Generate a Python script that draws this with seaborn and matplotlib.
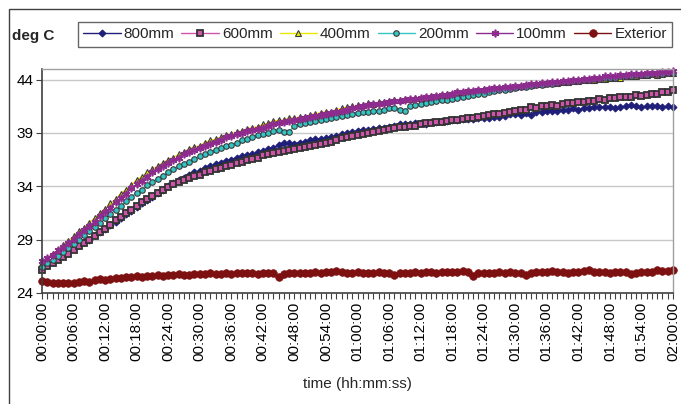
import matplotlib
matplotlib.use("Agg")
import matplotlib.pyplot as plt
import seaborn as sns
import pandas as pd
from matplotlib.patches import Rectangle
from matplotlib.ticker import MultipleLocator

# ---------------------------------------------------------
# Data: temperature (deg C) sampled every minute, 0..120 min
# ---------------------------------------------------------
minutes = list(range(121))

tick_minutes = list(range(0, 121, 6))
tick_labels = [
    "00:00:00", "00:06:00", "00:12:00", "00:18:00", "00:24:00", "00:30:00",
    "00:36:00", "00:42:00", "00:48:00", "00:54:00", "01:00:00", "01:06:00",
    "01:12:00", "01:18:00", "01:24:00", "01:30:00", "01:36:00", "01:42:00",
    "01:48:00", "01:54:00", "02:00:00",
]

t_800 = [
    26.3, 26.6, 26.9, 27.3, 27.6, 27.9, 28.2, 28.5, 28.8, 29.0,
    29.4, 29.7, 30.0, 30.4, 30.7, 31.0, 31.4, 31.7, 32.1, 32.4,
    32.7, 33.0, 33.4, 33.7, 34.0, 34.3, 34.6, 34.8, 35.1, 35.3,
    35.4, 35.7, 35.9, 36.1, 36.2, 36.4, 36.5, 36.7, 36.8, 36.9,
    37.0, 37.2, 37.3, 37.5, 37.6, 37.9, 38.1, 38.1, 38.0, 38.1,
    38.2, 38.3, 38.4, 38.4, 38.5, 38.6, 38.7, 38.9, 39.0, 39.1,
    39.2, 39.3, 39.3, 39.4, 39.5, 39.5, 39.6, 39.7, 39.8, 39.8,
    39.8, 39.9, 39.9, 39.8, 40.0, 40.0, 40.1, 40.1, 40.2, 40.2,
    40.3, 40.3, 40.3, 40.4, 40.4, 40.4, 40.5, 40.5, 40.6, 40.8,
    40.8, 40.7, 40.9, 40.7, 41.0, 41.0, 41.1, 41.1, 41.1, 41.2,
    41.2, 41.3, 41.2, 41.3, 41.3, 41.4, 41.4, 41.4, 41.4, 41.3,
    41.4, 41.5, 41.6, 41.5, 41.4, 41.5, 41.5, 41.5, 41.4, 41.5, 41.4,
]

t_600 = [
    26.2, 26.5, 26.8, 27.1, 27.4, 27.7, 28.0, 28.4, 28.7, 29.0,
    29.3, 29.7, 30.0, 30.4, 30.8, 31.1, 31.5, 31.8, 32.2, 32.5,
    32.8, 33.1, 33.4, 33.7, 33.9, 34.2, 34.4, 34.6, 34.8, 35.0,
    35.1, 35.3, 35.4, 35.6, 35.7, 35.9, 36.0, 36.2, 36.3, 36.5,
    36.6, 36.7, 36.9, 37.0, 37.1, 37.2, 37.3, 37.4, 37.5, 37.6,
    37.7, 37.8, 37.9, 38.0, 38.1, 38.2, 38.3, 38.5, 38.6, 38.7,
    38.8, 38.9, 39.0, 39.1, 39.2, 39.3, 39.4, 39.5, 39.6, 39.6,
    39.7, 39.7, 39.8, 39.9, 39.9, 40.0, 40.0, 40.1, 40.2, 40.2,
    40.3, 40.4, 40.4, 40.5, 40.6, 40.7, 40.8, 40.8, 40.9, 41.0,
    41.1, 41.2, 41.2, 41.4, 41.3, 41.5, 41.5, 41.6, 41.5, 41.7,
    41.8, 41.8, 41.9, 41.9, 42.0, 42.0, 42.2, 42.1, 42.3, 42.3,
    42.4, 42.4, 42.4, 42.6, 42.5, 42.6, 42.7, 42.7, 42.8, 42.8, 43.0,
]

t_400 = [
    26.8, 27.2, 27.7, 28.0, 28.5, 28.9, 29.3, 29.8, 30.1, 30.6,
    31.0, 31.5, 31.9, 32.4, 32.8, 33.3, 33.7, 34.1, 34.6, 34.9,
    35.3, 35.6, 35.9, 36.2, 36.5, 36.7, 37.0, 37.2, 37.5, 37.7,
    37.8, 38.1, 38.3, 38.4, 38.6, 38.8, 38.9, 39.1, 39.2, 39.4,
    39.5, 39.6, 39.8, 39.9, 40.1, 40.2, 40.2, 40.4, 40.4, 40.5,
    40.5, 40.7, 40.8, 40.9, 41.0, 41.0, 41.2, 41.3, 41.4, 41.5,
    41.6, 41.6, 41.8, 41.7, 41.9, 41.9, 42.0, 42.1, 42.1, 42.2,
    42.2, 42.3, 42.3, 42.4, 42.5, 42.5, 42.6, 42.7, 42.7, 42.8,
    42.8, 42.9, 42.9, 43.0, 43.1, 43.1, 43.2, 43.2, 43.3, 43.3,
    43.3, 43.4, 43.5, 43.5, 43.6, 43.6, 43.7, 43.7, 43.7, 43.8,
    43.8, 43.9, 43.9, 44.0, 44.0, 44.0, 44.1, 44.1, 44.2, 44.2,
    44.2, 44.3, 44.3, 44.3, 44.4, 44.4, 44.5, 44.4, 44.5, 44.6, 44.6,
]

t_200 = [
    26.4, 26.8, 27.1, 27.5, 27.8, 28.2, 28.6, 29.0, 29.4, 29.8,
    30.2, 30.6, 31.0, 31.4, 31.8, 32.2, 32.6, 33.0, 33.4, 33.7,
    34.1, 34.4, 34.7, 35.0, 35.3, 35.6, 35.9, 36.1, 36.3, 36.6,
    36.8, 37.0, 37.2, 37.4, 37.6, 37.8, 37.9, 38.1, 38.3, 38.4,
    38.6, 38.8, 38.9, 39.0, 39.2, 39.3, 39.1, 39.1, 39.7, 39.8,
    39.9, 40.0, 40.1, 40.2, 40.3, 40.4, 40.5, 40.6, 40.7, 40.8,
    40.9, 41.0, 41.0, 41.1, 41.1, 41.2, 41.3, 41.3, 41.2, 41.1,
    41.5, 41.6, 41.7, 41.8, 41.9, 42.0, 42.1, 42.1, 42.2, 42.3,
    42.4, 42.5, 42.6, 42.7, 42.7, 42.8, 42.9, 43.0, 43.0, 43.1,
    43.2, 43.3, 43.3, 43.4, 43.5, 43.5, 43.6, 43.6, 43.7, 43.8,
    43.8, 43.9, 43.9, 44.0, 44.0, 44.1, 44.1, 44.2, 44.2, 44.2,
    44.3, 44.3, 44.3, 44.4, 44.4, 44.4, 44.5, 44.5, 44.5, 44.6, 44.6,
]

t_100 = [
    27.0, 27.3, 27.6, 28.0, 28.3, 28.7, 29.1, 29.5, 29.9, 30.3,
    30.7, 31.2, 31.6, 32.0, 32.5, 32.9, 33.3, 33.8, 34.2, 34.5,
    34.9, 35.3, 35.6, 35.9, 36.2, 36.5, 36.7, 37.0, 37.2, 37.4,
    37.6, 37.8, 38.0, 38.2, 38.3, 38.6, 38.7, 38.9, 39.0, 39.2,
    39.3, 39.4, 39.5, 39.7, 39.8, 39.9, 40.0, 40.1, 40.2, 40.3,
    40.4, 40.5, 40.6, 40.7, 40.8, 40.9, 41.0, 41.1, 41.2, 41.3,
    41.4, 41.5, 41.6, 41.7, 41.7, 41.8, 41.9, 42.0, 42.0, 42.1,
    42.2, 42.2, 42.3, 42.4, 42.4, 42.5, 42.6, 42.6, 42.7, 42.8,
    42.8, 42.9, 42.9, 43.0, 43.0, 43.1, 43.2, 43.2, 43.3, 43.3,
    43.4, 43.4, 43.5, 43.6, 43.6, 43.7, 43.7, 43.8, 43.8, 43.9,
    43.9, 44.0, 44.0, 44.1, 44.1, 44.2, 44.2, 44.3, 44.3, 44.3,
    44.4, 44.4, 44.5, 44.5, 44.5, 44.6, 44.6, 44.6, 44.7, 44.7, 44.8,
]

t_ext = [
    25.1, 25.0, 24.95, 24.9, 24.95, 24.9, 24.95, 25.0, 25.1, 25.0,
    25.2, 25.3, 25.2, 25.3, 25.4, 25.4, 25.5, 25.5, 25.6, 25.5,
    25.6, 25.6, 25.7, 25.6, 25.7, 25.7, 25.8, 25.7, 25.7, 25.8,
    25.8, 25.8, 25.9, 25.8, 25.8, 25.9, 25.8, 25.9, 25.9, 25.9,
    25.9, 25.8, 25.9, 25.9, 25.9, 25.5, 25.8, 25.9, 25.9, 25.9,
    25.9, 25.9, 26.0, 25.9, 26.0, 26.0, 26.1, 26.0, 25.9, 25.9,
    26.0, 25.9, 25.9, 25.9, 26.0, 25.9, 25.9, 25.7, 25.9, 25.9,
    25.9, 26.0, 25.9, 26.0, 26.0, 25.9, 26.0, 26.0, 26.0, 26.0,
    26.1, 26.0, 25.6, 25.9, 25.9, 25.9, 25.9, 26.0, 25.9, 26.0,
    25.9, 25.9, 25.7, 25.9, 26.0, 26.0, 26.0, 26.1, 26.0, 26.0,
    25.9, 26.0, 26.0, 26.1, 26.2, 26.0, 26.0, 26.0, 25.9, 26.0,
    26.0, 26.0, 25.8, 25.9, 26.0, 26.0, 26.0, 26.2, 26.1, 26.1, 26.2,
]

df = pd.DataFrame({
    "minute": minutes,
    "800mm": t_800,
    "600mm": t_600,
    "400mm": t_400,
    "200mm": t_200,
    "100mm": t_100,
    "Exterior": t_ext,
})

# line colour, marker, marker size, face, edge
styles = {
    "800mm": dict(color="#1f1f7a", marker="D", markersize=3.5, mfc="#1f1f7a", mec="#1f1f7a", mew=0.8),
    "600mm": dict(color="#cc55aa", marker="s", markersize=4.2, mfc="#cc55aa", mec="#333333", mew=1.3),
    "400mm": dict(color="#e8e800", marker="^", markersize=4.5, mfc="#e8e800", mec="#3a3a3a", mew=0.8),
    "200mm": dict(color="#33c4c4", marker="o", markersize=4.0, mfc="#33c4c4", mec="#3a3a3a", mew=0.8),
    "100mm": dict(color="#8e2b8e", marker=(6, 2, 0), markersize=5.5, mfc="#8e2b8e", mec="#8e2b8e", mew=1.2),
    "Exterior": dict(color="#7d1010", marker="o", markersize=5.5, mfc="#7d1010", mec="#7d1010", mew=0.5),
}

sns.set_theme(style="white")
plt.rcParams["font.family"] = ["Liberation Sans", "DejaVu Sans"]

fig = plt.figure(figsize=(6.81, 4.04), dpi=100)
ax = fig.add_axes([42 / 681, 1 - 293 / 404, 631 / 681, 224 / 404])

for name, st in styles.items():
    sns.lineplot(data=df, x="minute", y=name, ax=ax, label=name,
                 linewidth=1.0, clip_on=False, **st)

ax.set_xlim(0, 120)
ax.set_ylim(24, 45)
ax.set_yticks([24, 29, 34, 39, 44])
ax.set_xticks(tick_minutes)
ax.set_xticklabels(tick_labels, rotation=90)
ax.xaxis.set_minor_locator(MultipleLocator(1))

ax.yaxis.grid(True, color="#c8c8c8", linewidth=1.0)
ax.xaxis.grid(False)
ax.set_axisbelow(True)

for side in ["left", "bottom"]:
    ax.spines[side].set_color("#404040")
    ax.spines[side].set_linewidth(1.2)
for side in ["top", "right"]:
    ax.spines[side].set_color("#a0a0a0")
    ax.spines[side].set_linewidth(1.0)

ax.tick_params(axis="both", which="both", bottom=True, left=True,
               direction="out", length=4, width=0.8, color="#404040",
               labelsize=11, labelcolor="black", pad=2)

ax.set_xlabel("time (hh:mm:ss)", fontsize=11, labelpad=12)
ax.set_ylabel("")

handles, labels = ax.get_legend_handles_labels()
ax.get_legend().remove()
leg = fig.legend(handles, labels, loc="upper left", bbox_to_anchor=(78 / 681, 1 - 22 / 404),
                 ncol=6, fontsize=11, frameon=True, fancybox=False, edgecolor="#404040",
                 handlelength=2.45, handletextpad=0.2, columnspacing=0.45, borderpad=0.35,
                 borderaxespad=0)
leg.get_frame().set_linewidth(1.0)

fig.text(12 / 681, 1 - 36 / 404, "deg C", fontsize=11, fontweight="bold", va="center")

# outer chart frame
fig.add_artist(Rectangle((9 / 681, -0.1), 1.2, 1.1 - 9 / 404, transform=fig.transFigure,
                         fill=False, edgecolor="#404040", linewidth=1.0))

fig.savefig("out.png", dpi=100)
